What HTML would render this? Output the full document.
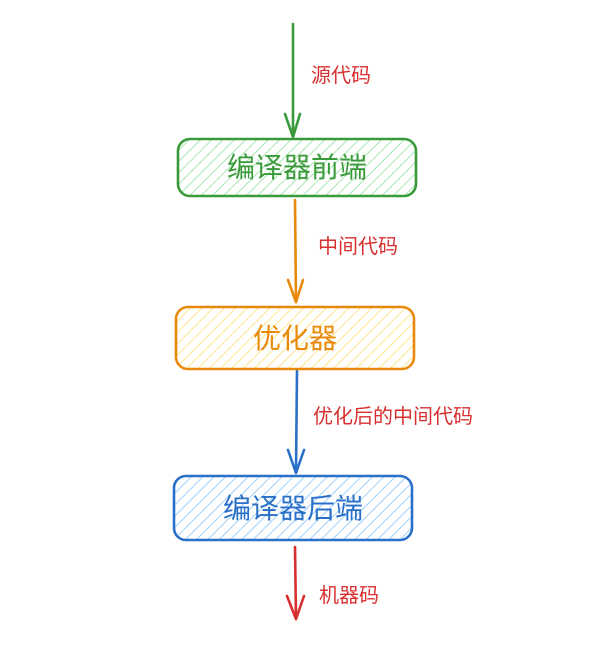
<!DOCTYPE html>
<html><head><meta charset="utf-8"><style>
html,body{margin:0;padding:0;background:#fff;}
svg text{font-family:"Liberation Sans","Noto Sans CJK SC",sans-serif;}
</style></head><body>
<svg width="600" height="645" viewBox="0 0 600 645" xmlns="http://www.w3.org/2000/svg">
<defs>
<pattern id="hg" width="8" height="8" patternUnits="userSpaceOnUse" patternTransform="rotate(45)"><line x1="0" y1="0" x2="0" y2="8" stroke="#a8e6b0" stroke-width="2"/></pattern>
<pattern id="ho" width="8" height="8" patternUnits="userSpaceOnUse" patternTransform="rotate(45)"><line x1="0" y1="0" x2="0" y2="8" stroke="#ffe58a" stroke-width="2"/></pattern>
<pattern id="hb" width="8" height="8" patternUnits="userSpaceOnUse" patternTransform="rotate(45)"><line x1="0" y1="0" x2="0" y2="8" stroke="#9fd0fa" stroke-width="2"/></pattern>
</defs>
<g fill="none" stroke-width="2.6" stroke-linecap="round" stroke-linejoin="round">
<path d="M293 24 L293 136" stroke="#3a9a3a"/>
<path d="M285 114 L293 137 L300 114" stroke="#3a9a3a"/>
<path d="M295 200 L296 302" stroke="#e8890c"/>
<path d="M288 280 L296 302 L303 280" stroke="#e8890c"/>
<path d="M297 371 L296 472" stroke="#2a70c8"/>
<path d="M288 450 L296 473 L304 450" stroke="#2a70c8"/>
<path d="M295 547 L296 619" stroke="#d83030"/>
<path d="M287 596 L296 619 L304 596" stroke="#d83030"/>
</g>
<rect x="178" y="139" width="238" height="57" rx="12" fill="url(#hg)" stroke="#3a9a3a" stroke-width="2.6"/>
<rect x="176" y="307" width="238" height="62" rx="12" fill="url(#ho)" stroke="#e8890c" stroke-width="2.6"/>
<rect x="174" y="476" width="238" height="64" rx="12" fill="url(#hb)" stroke="#2a70c8" stroke-width="2.6"/>
<g font-size="28" text-anchor="middle">
<text x="297" y="177" fill="#3a9a3a">编译器前端</text>
<text x="295" y="348" fill="#e8890c">优化器</text>
<text x="293" y="518" fill="#2a70c8">编译器后端</text>
</g>
<g font-size="20" fill="#d83030">
<text x="311" y="82">源代码</text>
<text x="318" y="253">中间代码</text>
<text x="313" y="423">优化后的中间代码</text>
<text x="319" y="602">机器码</text>
</g>
</svg>
</body></html>
